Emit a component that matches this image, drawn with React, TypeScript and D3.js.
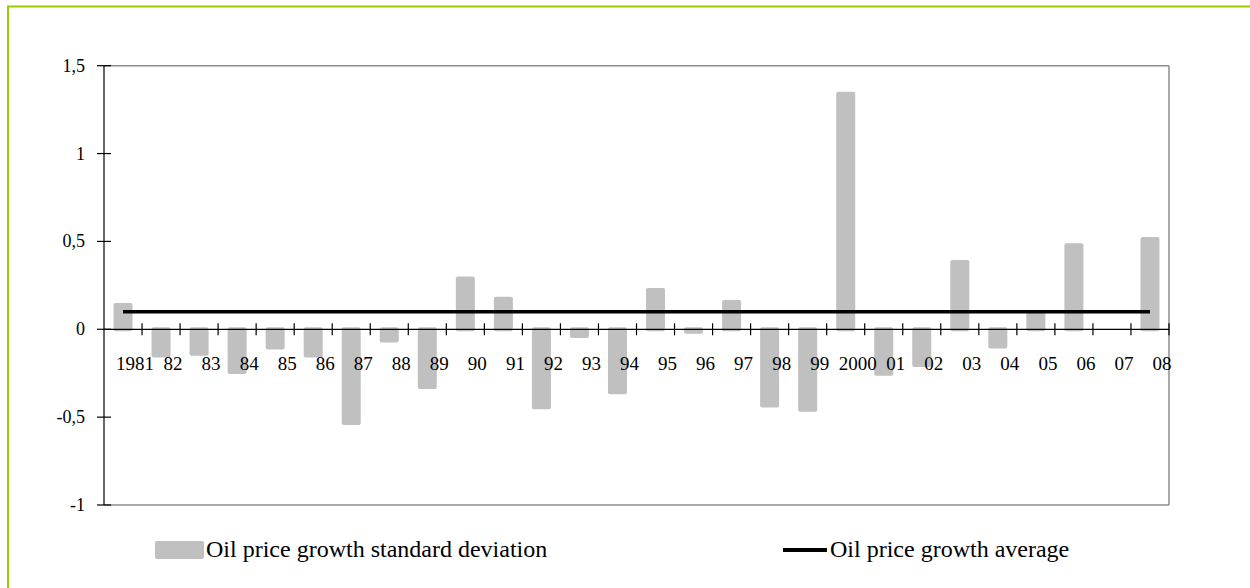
import React from "react";
import * as d3 from "d3";

const years = ["1981","82","83","84","85","86","87","88","89","90","91","92","93","94","95","96","97","98","99","2000","01","02","03","04","05","06","07","08"];
const stdDev = [0.15,-0.16,-0.15,-0.255,-0.115,-0.16,-0.545,-0.075,-0.34,0.30,0.185,-0.455,-0.05,-0.37,0.235,-0.025,0.167,-0.445,-0.47,1.352,-0.265,-0.215,0.394,-0.11,0.1,0.49,0,0.525];
const average = years.map(() => 0.1);
const yTicks = [1.5, 1, 0.5, 0, -0.5, -1];
const yTickLabels = ["1,5", "1", "0,5", "0", "-0,5", "-1"];
const legendLabels = ["Oil price growth standard deviation", "Oil price growth average"];

const W = 1250, H = 588;
const left = 104, right = 1169, top = 65.7, bottom = 505;
const FONT = "Liberation Serif, Tinos, DejaVu Serif, serif";

export default function App() {
  const x = d3.scaleBand<string>().domain(years).range([left, right]).paddingInner(0).paddingOuter(0);
  const y = d3.scaleLinear().domain([-1, 1.5]).range([bottom, top]);
  const bw = x.bandwidth();
  const barW = bw * 0.5;
  const y0 = y(0);
  const line = d3.line<number>()
    .x((_, i) => (x(years[i]) as number) + bw / 2)
    .y((d) => y(d));

  return (
    <div style={{ position: "absolute", left: 0, top: 0 }}>
      <svg width={W} height={H} style={{ display: "block", fontFamily: FONT }}>
        <rect x={0} y={0} width={W} height={H} fill="#fff" />
        <rect x={8} y={6.5} width={W + 20} height={H + 20} fill="none" stroke="#99cc00" strokeWidth={2} />
        {/* plot frame */}
        <line x1={left} x2={right} y1={top} y2={top} stroke="#8c8c8c" strokeWidth={1.5} />
        <line x1={right} x2={right} y1={top} y2={bottom} stroke="#8c8c8c" strokeWidth={1.5} />
        <line x1={left} x2={right} y1={bottom} y2={bottom} stroke="#8c8c8c" strokeWidth={1.5} />
        {/* bars */}
        {stdDev.map((v, i) => {
          if (v === 0) return null;
          const cx = (x(years[i]) as number) + bw / 2;
          const yt = v > 0 ? y(v) : y0 - 2;
          const yb = v > 0 ? y0 + 2 : y(v);
          return <rect key={i} x={cx - barW / 2} y={yt} width={barW} height={yb - yt} rx={2} fill="#c0c0c0" />;
        })}
        {/* y axis */}
        <line x1={left} x2={left} y1={top} y2={bottom} stroke="#000" strokeWidth={1.2} />
        {yTicks.map((t, i) => (
          <g key={t}>
            <line x1={left - 7} x2={left + 7} y1={y(t)} y2={y(t)} stroke="#000" strokeWidth={1.2} />
            <text x={85} y={y(t) + 6} textAnchor="end" style={{ fontFamily: FONT }} fontSize={18} fill="#000">{yTickLabels[i]}</text>
          </g>
        ))}
        {/* x axis */}
        <line x1={left} x2={right} y1={y0} y2={y0} stroke="#000" strokeWidth={1.2} />
        {years.map((yr, i) => {
          const bx = (x(yr) as number) + bw;
          return <line key={"t" + i} x1={bx} x2={bx} y1={y0 - 6} y2={y0 + 6} stroke="#000" strokeWidth={1.2} />;
        })}
        {years.map((yr) => (
          <text key={"l" + yr} x={(x(yr) as number) + bw / 2 + 12} y={370} textAnchor="middle" style={{ fontFamily: FONT }} fontSize={19} fill="#000">{yr}</text>
        ))}
        {/* average line */}
        <path d={line(average) || ""} fill="none" stroke="#000" strokeWidth={3.6} />
        {/* legend */}
        <rect x={155} y={541} width={49} height={18} rx={2} fill="#c0c0c0" />
        <text x={206} y={557} style={{ fontFamily: FONT }} fontSize={24} fill="#000">{legendLabels[0]}</text>
        <line x1={783} x2={827} y1={550} y2={550} stroke="#000" strokeWidth={4} />
        <text x={830} y={557} style={{ fontFamily: FONT }} fontSize={24} fill="#000">{legendLabels[1]}</text>
      </svg>
    </div>
  );
}
